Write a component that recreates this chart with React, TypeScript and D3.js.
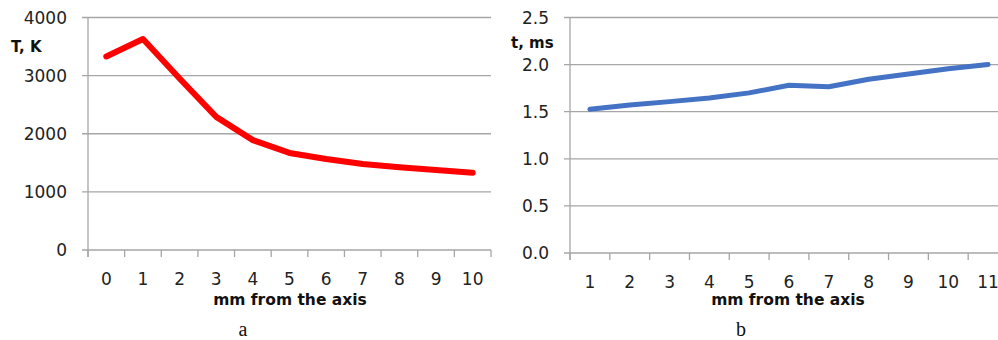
import * as d3 from "d3";
import { useEffect, useRef } from "react";

// left panel: temperature vs distance
const distA = ["0", "1", "2", "3", "4", "5", "6", "7", "8", "9", "10"];
const tempK = [3330, 3630, 2950, 2290, 1890, 1670, 1565, 1480, 1425, 1375, 1330];
const tempTicks = [0, 1000, 2000, 3000, 4000];

// right panel: time vs distance
const distB = ["1", "2", "3", "4", "5", "6", "7", "8", "9", "10", "11"];
const timeMs = [1.525, 1.57, 1.607, 1.645, 1.7, 1.78, 1.765, 1.845, 1.9, 1.955, 2.0];
const timeTicks = [0, 0.5, 1.0, 1.5, 2.0, 2.5];

const W = 998,
  H = 340;

const FONT = "'DejaVu Sans', sans-serif";

function drawPanel(svg, opts) {
  const { cats, values, ticks, fmt, left, right, gridRight, top, bottom, color, lw, yTitle, yTitleX, yTitleY, letter, titleX, tickLabelY } = opts;

  const x = d3.scaleBand().domain(cats).range([left, right]);
  const y = d3.scaleLinear().domain([0, d3.max(ticks)]).range([bottom, top]);

  const g = svg.append("g");

  // gridlines
  g.selectAll(".grid")
    .data(ticks)
    .enter()
    .append("line")
    .attr("x1", left - 6)
    .attr("x2", gridRight)
    .attr("y1", d => y(d))
    .attr("y2", d => y(d))
    .attr("stroke", "#a6a6a6")
    .attr("stroke-width", 1.3);

  // y axis line
  g.append("line")
    .attr("x1", left)
    .attr("x2", left)
    .attr("y1", top)
    .attr("y2", bottom + 7)
    .attr("stroke", "#a6a6a6")
    .attr("stroke-width", 1.3);

  // x tick marks at band edges
  const edges = cats.map(c => x(c)).concat([x(cats[cats.length - 1]) + x.bandwidth()]);
  g.selectAll(".xt")
    .data(edges.filter(e => e <= gridRight))
    .enter()
    .append("line")
    .attr("x1", d => d)
    .attr("x2", d => d)
    .attr("y1", bottom)
    .attr("y2", bottom + 7)
    .attr("stroke", "#a6a6a6")
    .attr("stroke-width", 1.3);

  // y tick labels
  g.selectAll(".yl")
    .data(ticks)
    .enter()
    .append("text")
    .attr("x", left - 21)
    .attr("y", d => y(d))
    .attr("dy", "0.36em")
    .attr("text-anchor", "end")
    .attr("font-family", FONT)
    .attr("font-size", 17)
    .attr("fill", "#222")
    .text(d => fmt(d));

  // x tick labels
  g.selectAll(".xl")
    .data(cats)
    .enter()
    .append("text")
    .attr("x", d => x(d) + x.bandwidth() / 2)
    .attr("y", tickLabelY)
    .attr("dy", "0.36em")
    .attr("text-anchor", "middle")
    .attr("font-family", FONT)
    .attr("font-size", 17)
    .attr("fill", "#222")
    .text(d => d);

  // line
  const line = d3
    .line()
    .x((d, i) => x(cats[i]) + x.bandwidth() / 2)
    .y(d => y(d));

  g.append("path")
    .datum(values)
    .attr("d", line)
    .attr("fill", "none")
    .attr("stroke", color)
    .attr("stroke-width", lw)
    .attr("stroke-linecap", "round")
    .attr("stroke-linejoin", "round");

  // axis titles
  g.append("text")
    .attr("x", yTitleX)
    .attr("y", yTitleY)
    .attr("dy", "0.36em")
    .attr("font-family", FONT)
    .attr("font-weight", "bold")
    .attr("font-size", 15)
    .attr("fill", "#111")
    .text(yTitle);

  g.append("text")
    .attr("x", titleX)
    .attr("y", 299)
    .attr("dy", "0.36em")
    .attr("text-anchor", "middle")
    .attr("font-family", FONT)
    .attr("font-weight", "bold")
    .attr("font-size", 15.5)
    .attr("fill", "#111")
    .text("mm from the axis");

  // panel letter
  g.append("text")
    .attr("x", titleX - 47)
    .attr("y", 329)
    .attr("dy", "0.36em")
    .attr("text-anchor", "middle")
    .attr("font-family", "'Liberation Serif', serif")
    .attr("font-size", 20)
    .attr("fill", "#111")
    .text(letter);
}

const App = () => {
  const ref = useRef();

  useEffect(() => {
    const svg = d3.select(ref.current);
    svg.selectAll("*").remove();

    drawPanel(svg, {
      cats: distA,
      values: tempK,
      ticks: tempTicks,
      fmt: d => String(d),
      left: 88,
      right: 491,
      gridRight: 491,
      top: 17.5,
      bottom: 250,
      color: "#ff0000",
      lw: 6,
      yTitle: "T, K",
      yTitleX: 11,
      yTitleY: 47,
      letter: "a",
      titleX: 290,
      tickLabelY: 279
    });

    drawPanel(svg, {
      cats: distB,
      values: timeMs,
      ticks: timeTicks,
      fmt: d => d.toFixed(1),
      left: 570,
      right: 1008,
      gridRight: 998,
      top: 17.5,
      bottom: 253,
      color: "#4472c4",
      lw: 5,
      yTitle: "t, ms",
      yTitleX: 511,
      yTitleY: 43,
      letter: "b",
      titleX: 788,
      tickLabelY: 282
    });
  }, []);

  return (
    <svg
      ref={ref}
      width={W}
      height={H}
      style={{ position: "absolute", left: 0, top: 0, background: "#fff" }}
    />
  );
};

export default App;
